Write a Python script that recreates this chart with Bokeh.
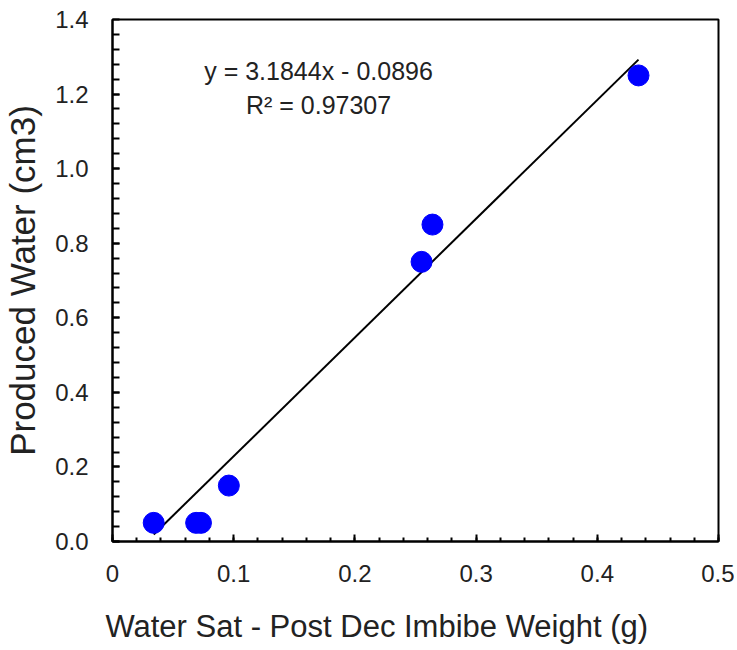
from bokeh.plotting import figure
from bokeh.models import FixedTicker, Label, PrintfTickFormatter, ColumnDataSource
from bokeh.embed import file_html
from bokeh.resources import INLINE

# data
water_sat_minus_post = [0.034, 0.069, 0.073, 0.096, 0.255, 0.264, 0.434]
produced_water = [0.05, 0.05, 0.05, 0.15, 0.75, 0.85, 1.25]
SLOPE = 3.1844
INTERCEPT = -0.0896
EQ_TEXT = "y = 3.1844x - 0.0896"
R2_TEXT = "R² = 0.97307"
x_ticks = [0, 0.1, 0.2, 0.3, 0.4, 0.5]
x_tick_labels = ["0", "0.1", "0.2", "0.3", "0.4", "0.5"]
x_minor = [i * 0.02 for i in range(26)]
y_ticks = [0.0, 0.2, 0.4, 0.6, 0.8, 1.0, 1.2, 1.4]
y_minor = [i * 0.04 for i in range(36)]
X_TITLE = "Water Sat - Post Dec Imbibe Weight (g)"
Y_TITLE = "Produced Water (cm3)"

FONT = "Liberation Sans"

p = figure(output_backend="svg", toolbar_location=None,
           frame_width=606, frame_height=522,
           min_border_left=110, min_border_right=16,
           min_border_top=19, min_border_bottom=108,
           x_range=(0, 0.5), y_range=(0, 1.4))
p.background_fill_color = "white"
p.border_fill_color = "white"
p.grid.visible = False
p.outline_line_color = "black"
p.outline_line_width = 2

# trendline
xmin, xmax = min(water_sat_minus_post), max(water_sat_minus_post)
p.line([xmin, xmax], [SLOPE * xmin + INTERCEPT, SLOPE * xmax + INTERCEPT],
       line_color="black", line_width=2)

src = ColumnDataSource(dict(x=water_sat_minus_post, y=produced_water))
p.scatter("x", "y", source=src, size=21, fill_color="#0000ff", line_color="#0000ff")

# axes
p.xaxis.ticker = FixedTicker(ticks=x_ticks, minor_ticks=x_minor)
p.xaxis.major_label_overrides = {t: l for t, l in zip(x_ticks, x_tick_labels)}
p.yaxis.ticker = FixedTicker(ticks=y_ticks, minor_ticks=y_minor)
p.yaxis.formatter = PrintfTickFormatter(format="%.1f")

for ax in (p.xaxis, p.yaxis):
    ax.axis_line_color = "black"
    ax.axis_line_width = 2
    ax.major_tick_line_color = "black"
    ax.minor_tick_line_color = "black"
    ax.major_tick_line_width = 2
    ax.minor_tick_line_width = 2
    ax.major_tick_out = 0
    ax.minor_tick_out = 0
    ax.major_label_text_font = FONT
    ax.major_label_text_font_size = "24px"
    ax.major_label_text_color = "#222222"
    ax.axis_label_text_font = FONT
    ax.axis_label_text_font_style = "normal"
    ax.axis_label_text_color = "#222222"

p.xaxis.axis_label_text_font_size = "31px"
p.yaxis.axis_label_text_font_size = "35px"

p.xaxis.major_tick_in = 7
p.xaxis.minor_tick_in = 4
p.yaxis.major_tick_in = 7
p.yaxis.minor_tick_in = 7

p.xaxis.major_label_standoff = 23
p.yaxis.major_label_standoff = 24
p.xaxis.axis_label_standoff = 24
p.yaxis.axis_label_standoff = 10

# trailing no-break spaces shift the centred title left, as in the reference
p.xaxis.axis_label = X_TITLE + "\u00a0" * 9
p.yaxis.axis_label = Y_TITLE

p.add_layout(Label(x=0.17, y=1.262, text=EQ_TEXT, text_align="center",
                   text_baseline="middle", text_font=FONT, text_font_size="25px",
                   text_color="#222222"))
p.add_layout(Label(x=0.17, y=1.17, text=R2_TEXT, text_align="center",
                   text_baseline="middle", text_font=FONT, text_font_size="25px",
                   text_color="#222222"))

open("out.html", "w").write(file_html(p, INLINE))
